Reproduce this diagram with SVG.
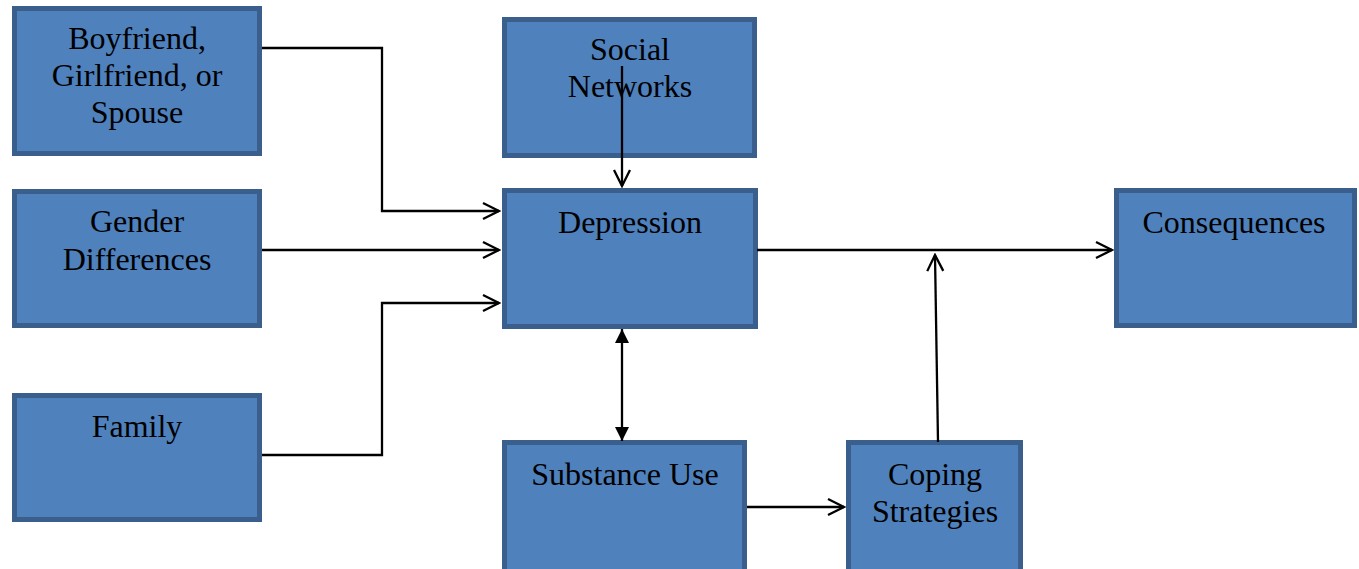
<svg xmlns="http://www.w3.org/2000/svg" width="1359" height="569" viewBox="0 0 1359 569">
  <style>
    .box { fill: #4f81bd; stroke: #3a5f8d; stroke-width: 5; }
    .lbl { font-family: "Liberation Serif", "Times New Roman", serif; font-size: 32px; fill: #000; text-anchor: middle; }
    .wire { fill: none; stroke: #000; stroke-width: 2.3; }
  </style>
  <defs>
    <marker id="open" viewBox="0 0 20 20" refX="18" refY="10" markerWidth="20" markerHeight="20" markerUnits="userSpaceOnUse" orient="auto">
      <path d="M2,2 L18,10 L2,18" fill="none" stroke="#000" stroke-width="2.3"/>
    </marker>
    <marker id="solid" viewBox="0 0 16 16" refX="15" refY="8" markerWidth="16" markerHeight="16" markerUnits="userSpaceOnUse" orient="auto-start-reverse">
      <path d="M1,1 L15,8 L1,15 Z" fill="#000"/>
    </marker>
  </defs>

  <g id="boyfriend">
    <rect class="box" x="14.5" y="8.5" width="245" height="145"/>
    <text class="lbl" x="137" y="49">Boyfriend,</text>
    <text class="lbl" x="137" y="86">Girlfriend, or</text>
    <text class="lbl" x="137" y="123">Spouse</text>
  </g>
  <g id="gender">
    <rect class="box" x="14.5" y="191.5" width="245" height="134"/>
    <text class="lbl" x="137" y="232">Gender</text>
    <text class="lbl" x="137" y="270">Differences</text>
  </g>
  <g id="family">
    <rect class="box" x="14.5" y="395.5" width="245" height="124"/>
    <text class="lbl" x="137" y="437">Family</text>
  </g>
  <g id="social-networks">
    <rect class="box" x="504.5" y="19.5" width="250" height="136"/>
    <text class="lbl" x="630" y="60">Social</text>
    <text class="lbl" x="630" y="97">Networks</text>
  </g>
  <g id="depression">
    <rect class="box" x="504.5" y="190.5" width="251" height="136"/>
    <text class="lbl" x="630" y="233">Depression</text>
  </g>
  <g id="substance-use">
    <rect class="box" x="504.5" y="442.5" width="240" height="130"/>
    <text class="lbl" x="625" y="485">Substance Use</text>
  </g>
  <g id="coping-strategies">
    <rect class="box" x="848.5" y="442.5" width="172" height="130"/>
    <text class="lbl" x="935" y="485">Coping</text>
    <text class="lbl" x="935" y="522">Strategies</text>
  </g>
  <g id="consequences">
    <rect class="box" x="1116.5" y="190.5" width="238" height="135"/>
    <text class="lbl" x="1234" y="233">Consequences</text>
  </g>

  <g id="connectors">
    <path class="wire" d="M262,48 H382 V211 H499" marker-end="url(#open)"/>
    <path class="wire" d="M262,250 H499" marker-end="url(#open)"/>
    <path class="wire" d="M262,455 H382 V303 H499" marker-end="url(#open)"/>
    <path class="wire" d="M622,66 V186" marker-end="url(#open)"/>
    <path class="wire" d="M622,329 V441" marker-start="url(#solid)" marker-end="url(#solid)"/>
    <path class="wire" d="M757,250 H1112" marker-end="url(#open)"/>
    <path class="wire" d="M747,507 H844" marker-end="url(#open)"/>
    <path class="wire" d="M938,442 L935,255" marker-end="url(#open)"/>
  </g>
</svg>
